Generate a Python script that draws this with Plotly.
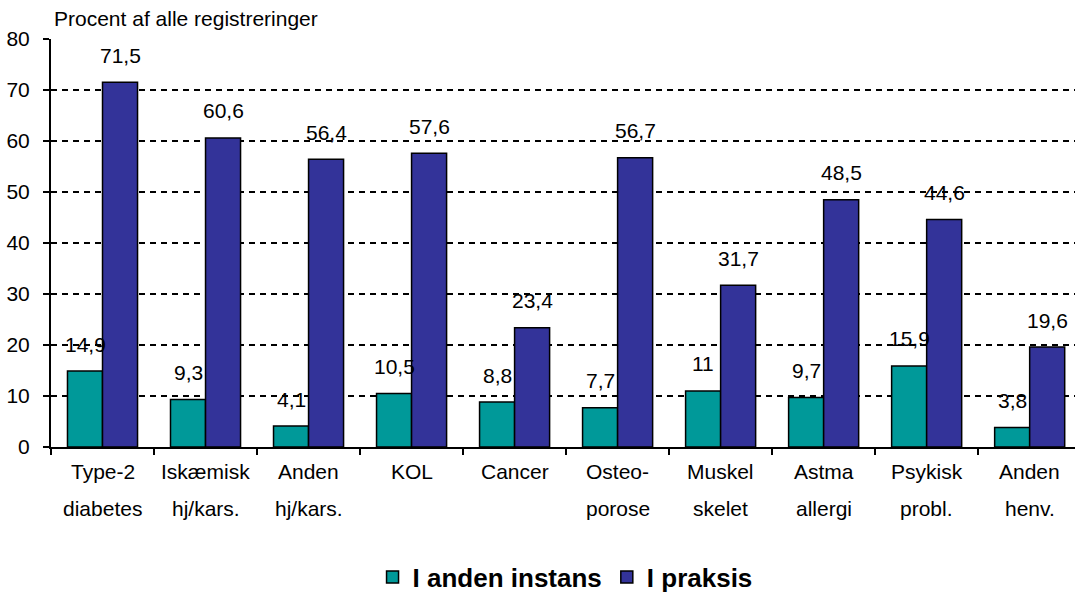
import plotly.graph_objects as go

# Category labels, split over two lines
line1 = ["Type-2", "Iskæmisk", "Anden", "KOL", "Cancer", "Osteo-", "Muskel", "Astma", "Psykisk", "Anden"]
line2 = ["diabetes", "hj/kars.", "hj/kars.", "", "", "porose", "skelet", "allergi", "probl.", "henv."]
categories = [a + " " + b if b else a for a, b in zip(line1, line2)]

# Share of all registrations (percent)
anden_instans = [14.9, 9.3, 4.1, 10.5, 8.8, 7.7, 11, 9.7, 15.9, 3.8]
i_praksis = [71.5, 60.6, 56.4, 57.6, 23.4, 56.7, 31.7, 48.5, 44.6, 19.6]

y_ticks = [0, 10, 20, 30, 40, 50, 60, 70, 80]

series_names = ["I anden instans", "I praksis"]
series_colors = ["#009999", "#333399"]
FONT = "Liberation Sans, Arial, sans-serif"
FS = 21


def fmt(v):
    return f"{v:g}".replace(".", ",")


fig = go.Figure()
for name, vals, col in zip(series_names, [anden_instans, i_praksis], series_colors):
    fig.add_trace(go.Bar(
        x=categories, y=vals, name=name,
        marker=dict(color=col, line=dict(color="black", width=1.5)),
        hoverinfo="skip",
    ))

annotations = []
# value labels above each bar
for vals, shift in [(anden_instans, -17.5), (i_praksis, 17.5)]:
    for c, v in zip(categories, vals):
        annotations.append(dict(
            x=c, y=v, xref="x", yref="y", text=fmt(v), showarrow=False,
            xshift=shift, yshift=27, yanchor="middle",
            font=dict(family=FONT, size=FS, color="black"),
        ))

# category labels (two lines with wide spacing)
for c, a, b in zip(categories, line1, line2):
    annotations.append(dict(x=c, y=-0.059, xref="x", yref="paper", text=a,
                            showarrow=False, yanchor="middle",
                            font=dict(family=FONT, size=FS, color="black")))
    if b:
        annotations.append(dict(x=c, y=-0.150, xref="x", yref="paper", text=b,
                                showarrow=False, yanchor="middle",
                                font=dict(family=FONT, size=FS, color="black")))

# axis title
annotations.append(dict(x=0.001, y=1.05, xref="paper", yref="paper", xanchor="left",
                        yanchor="middle", text="Procent af alle registreringer",
                        showarrow=False, font=dict(family=FONT, size=FS, color="black")))

fig.update_layout(
    width=1075, height=596,
    margin=dict(l=51, r=0, t=39, b=149, autoexpand=False),
    paper_bgcolor="white", plot_bgcolor="white",
    barmode="group", bargap=0.32, bargroupgap=0,
    font=dict(family=FONT, size=FS, color="black"),
    annotations=annotations,
    showlegend=True,
    legend=dict(orientation="h", x=0.502, xanchor="center", y=-0.319, yanchor="middle",
                font=dict(family=FONT, size=26, color="black", weight="bold"),
                itemwidth=30, bgcolor="rgba(0,0,0,0)"),
    shapes=[dict(type="line", xref="paper", yref="y", x0=0, x1=1,
                 ysizemode="pixel", yanchor=80, y0=2, y1=2,
                 line=dict(color="#808080", width=1))],
)

fig.update_xaxes(
    type="category", range=[-0.5, 9.44], showticklabels=False,
    showline=True, linecolor="black", linewidth=2,
    ticks="outside", tickson="boundaries", ticklen=6, tickwidth=1.5, tickcolor="black",
    showgrid=False, zeroline=False,
)
fig.update_yaxes(
    range=[0, 80], tickvals=y_ticks, ticktext=[str(t) for t in y_ticks],
    showline=True, linecolor="black", linewidth=2,
    ticks="outside", ticklen=6, tickwidth=1.5, tickcolor="black",
    ticklabelstandoff=9,
    tickfont=dict(family=FONT, size=FS, color="black"),
    showgrid=True, gridcolor="black", gridwidth=2, griddash="6px,5px",
    zeroline=False,
)

fig.write_html("out.html")
